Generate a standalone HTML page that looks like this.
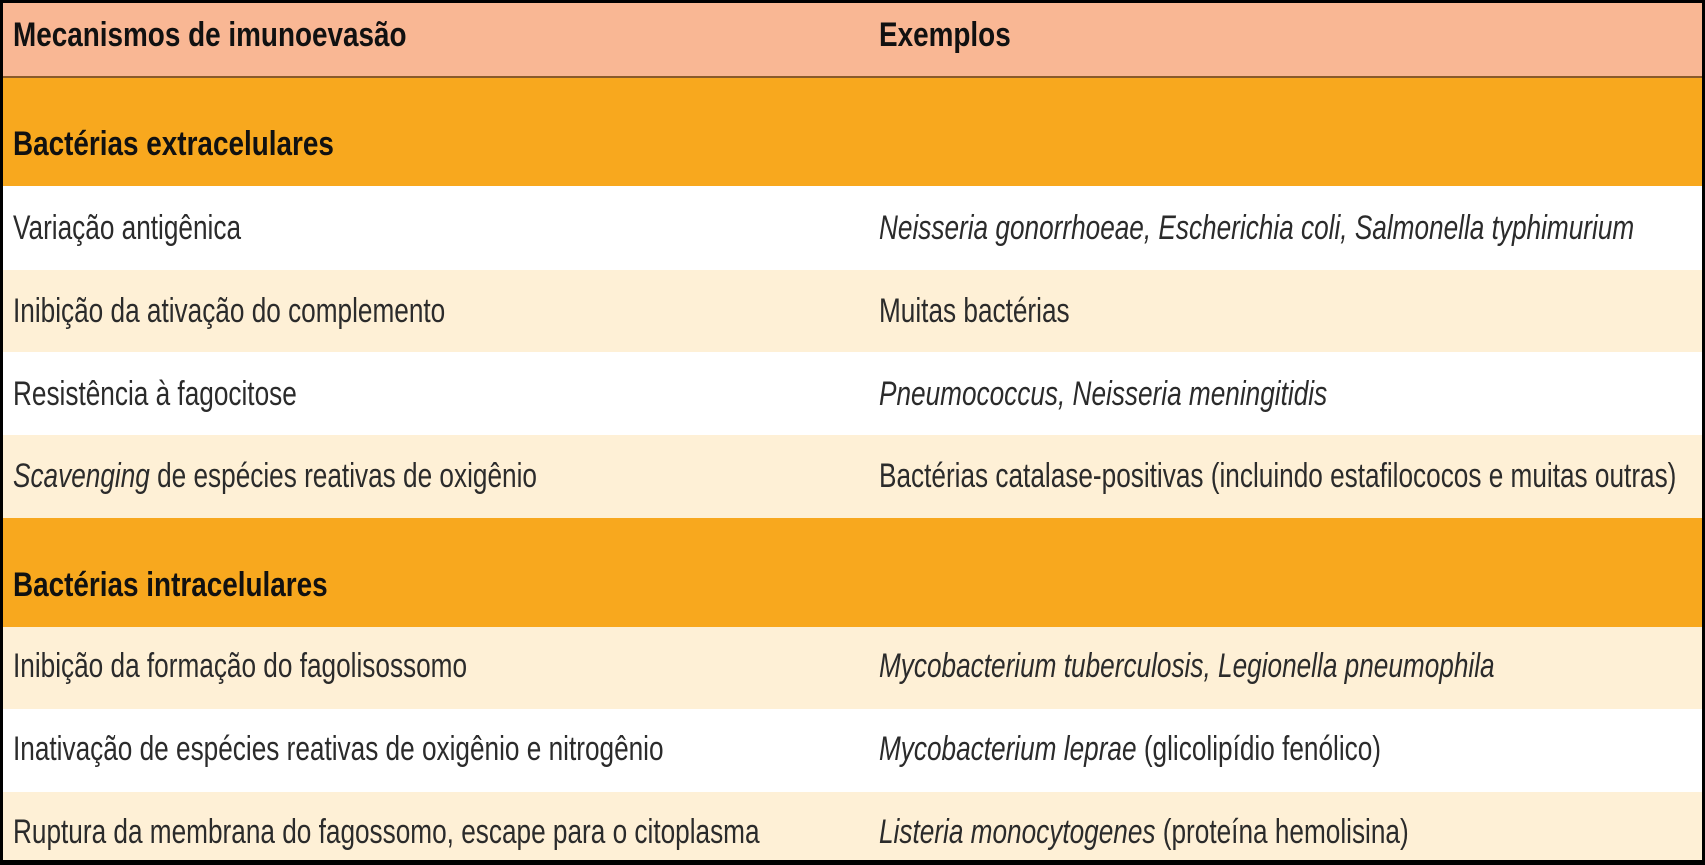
<!DOCTYPE html>
<html><head><meta charset="utf-8"><style>
html,body{margin:0;padding:0;background:#000;}
#w{position:relative;width:1705px;height:865px;background:#000;overflow:hidden;font-family:"Liberation Sans",sans-serif;}
.r{position:absolute;left:3px;width:1699px;}
.t{position:absolute;white-space:nowrap;font-size:34px;color:#2b2b2b;transform:scaleX(0.77);transform-origin:left center;line-height:40px;}
.b{font-weight:bold;color:#111;transform:scaleX(0.82);}
</style></head><body><div id="w">
<div class="r" style="top:3px;height:73px;background:#F9B794;border-bottom:2px solid #8a5a2a;"></div>
<div class="r" style="top:78px;height:108px;background:#F8A81E;"></div>
<div class="r" style="top:186px;height:84px;background:#fff;"></div>
<div class="r" style="top:270px;height:82px;background:#FEF0D6;"></div>
<div class="r" style="top:352px;height:83px;background:#fff;"></div>
<div class="r" style="top:435px;height:83px;background:#FEF0D6;"></div>
<div class="r" style="top:518px;height:109px;background:#F8A81E;"></div>
<div class="r" style="top:627px;height:82px;background:#FEF0D6;"></div>
<div class="r" style="top:709px;height:83px;background:#fff;"></div>
<div class="r" style="top:792px;height:68px;background:#FEF0D6;"></div>

<div class="t b" style="left:13px;top:15px;">Mecanismos de imunoevasão</div>
<div class="t b" style="left:879px;top:15px;">Exemplos</div>
<div class="t b" style="left:13px;top:124px;">Bactérias extracelulares</div>
<div class="t" style="left:13px;top:208px;">Variação antigênica</div>
<div class="t" style="left:879px;top:208px;"><i>Neisseria gonorrhoeae, Escherichia coli, Salmonella typhimurium</i></div>
<div class="t" style="left:13px;top:291px;">Inibição da ativação do complemento</div>
<div class="t" style="left:879px;top:291px;">Muitas bactérias</div>
<div class="t" style="left:13px;top:374px;">Resistência à fagocitose</div>
<div class="t" style="left:879px;top:374px;"><i>Pneumococcus, Neisseria meningitidis</i></div>
<div class="t" style="left:13px;top:456px;"><i>Scavenging</i> de espécies reativas de oxigênio</div>
<div class="t" style="left:879px;top:456px;">Bactérias catalase-positivas (incluindo estafilococos e muitas outras)</div>
<div class="t b" style="left:13px;top:565px;">Bactérias intracelulares</div>
<div class="t" style="left:13px;top:646px;">Inibição da formação do fagolisossomo</div>
<div class="t" style="left:879px;top:646px;"><i>Mycobacterium tuberculosis, Legionella pneumophila</i></div>
<div class="t" style="left:13px;top:729px;">Inativação de espécies reativas de oxigênio e nitrogênio</div>
<div class="t" style="left:879px;top:729px;"><i>Mycobacterium leprae</i> (glicolipídio fenólico)</div>
<div class="t" style="left:13px;top:812px;">Ruptura da membrana do fagossomo, escape para o citoplasma</div>
<div class="t" style="left:879px;top:812px;"><i>Listeria monocytogenes</i> (proteína hemolisina)</div>
</div></body></html>
